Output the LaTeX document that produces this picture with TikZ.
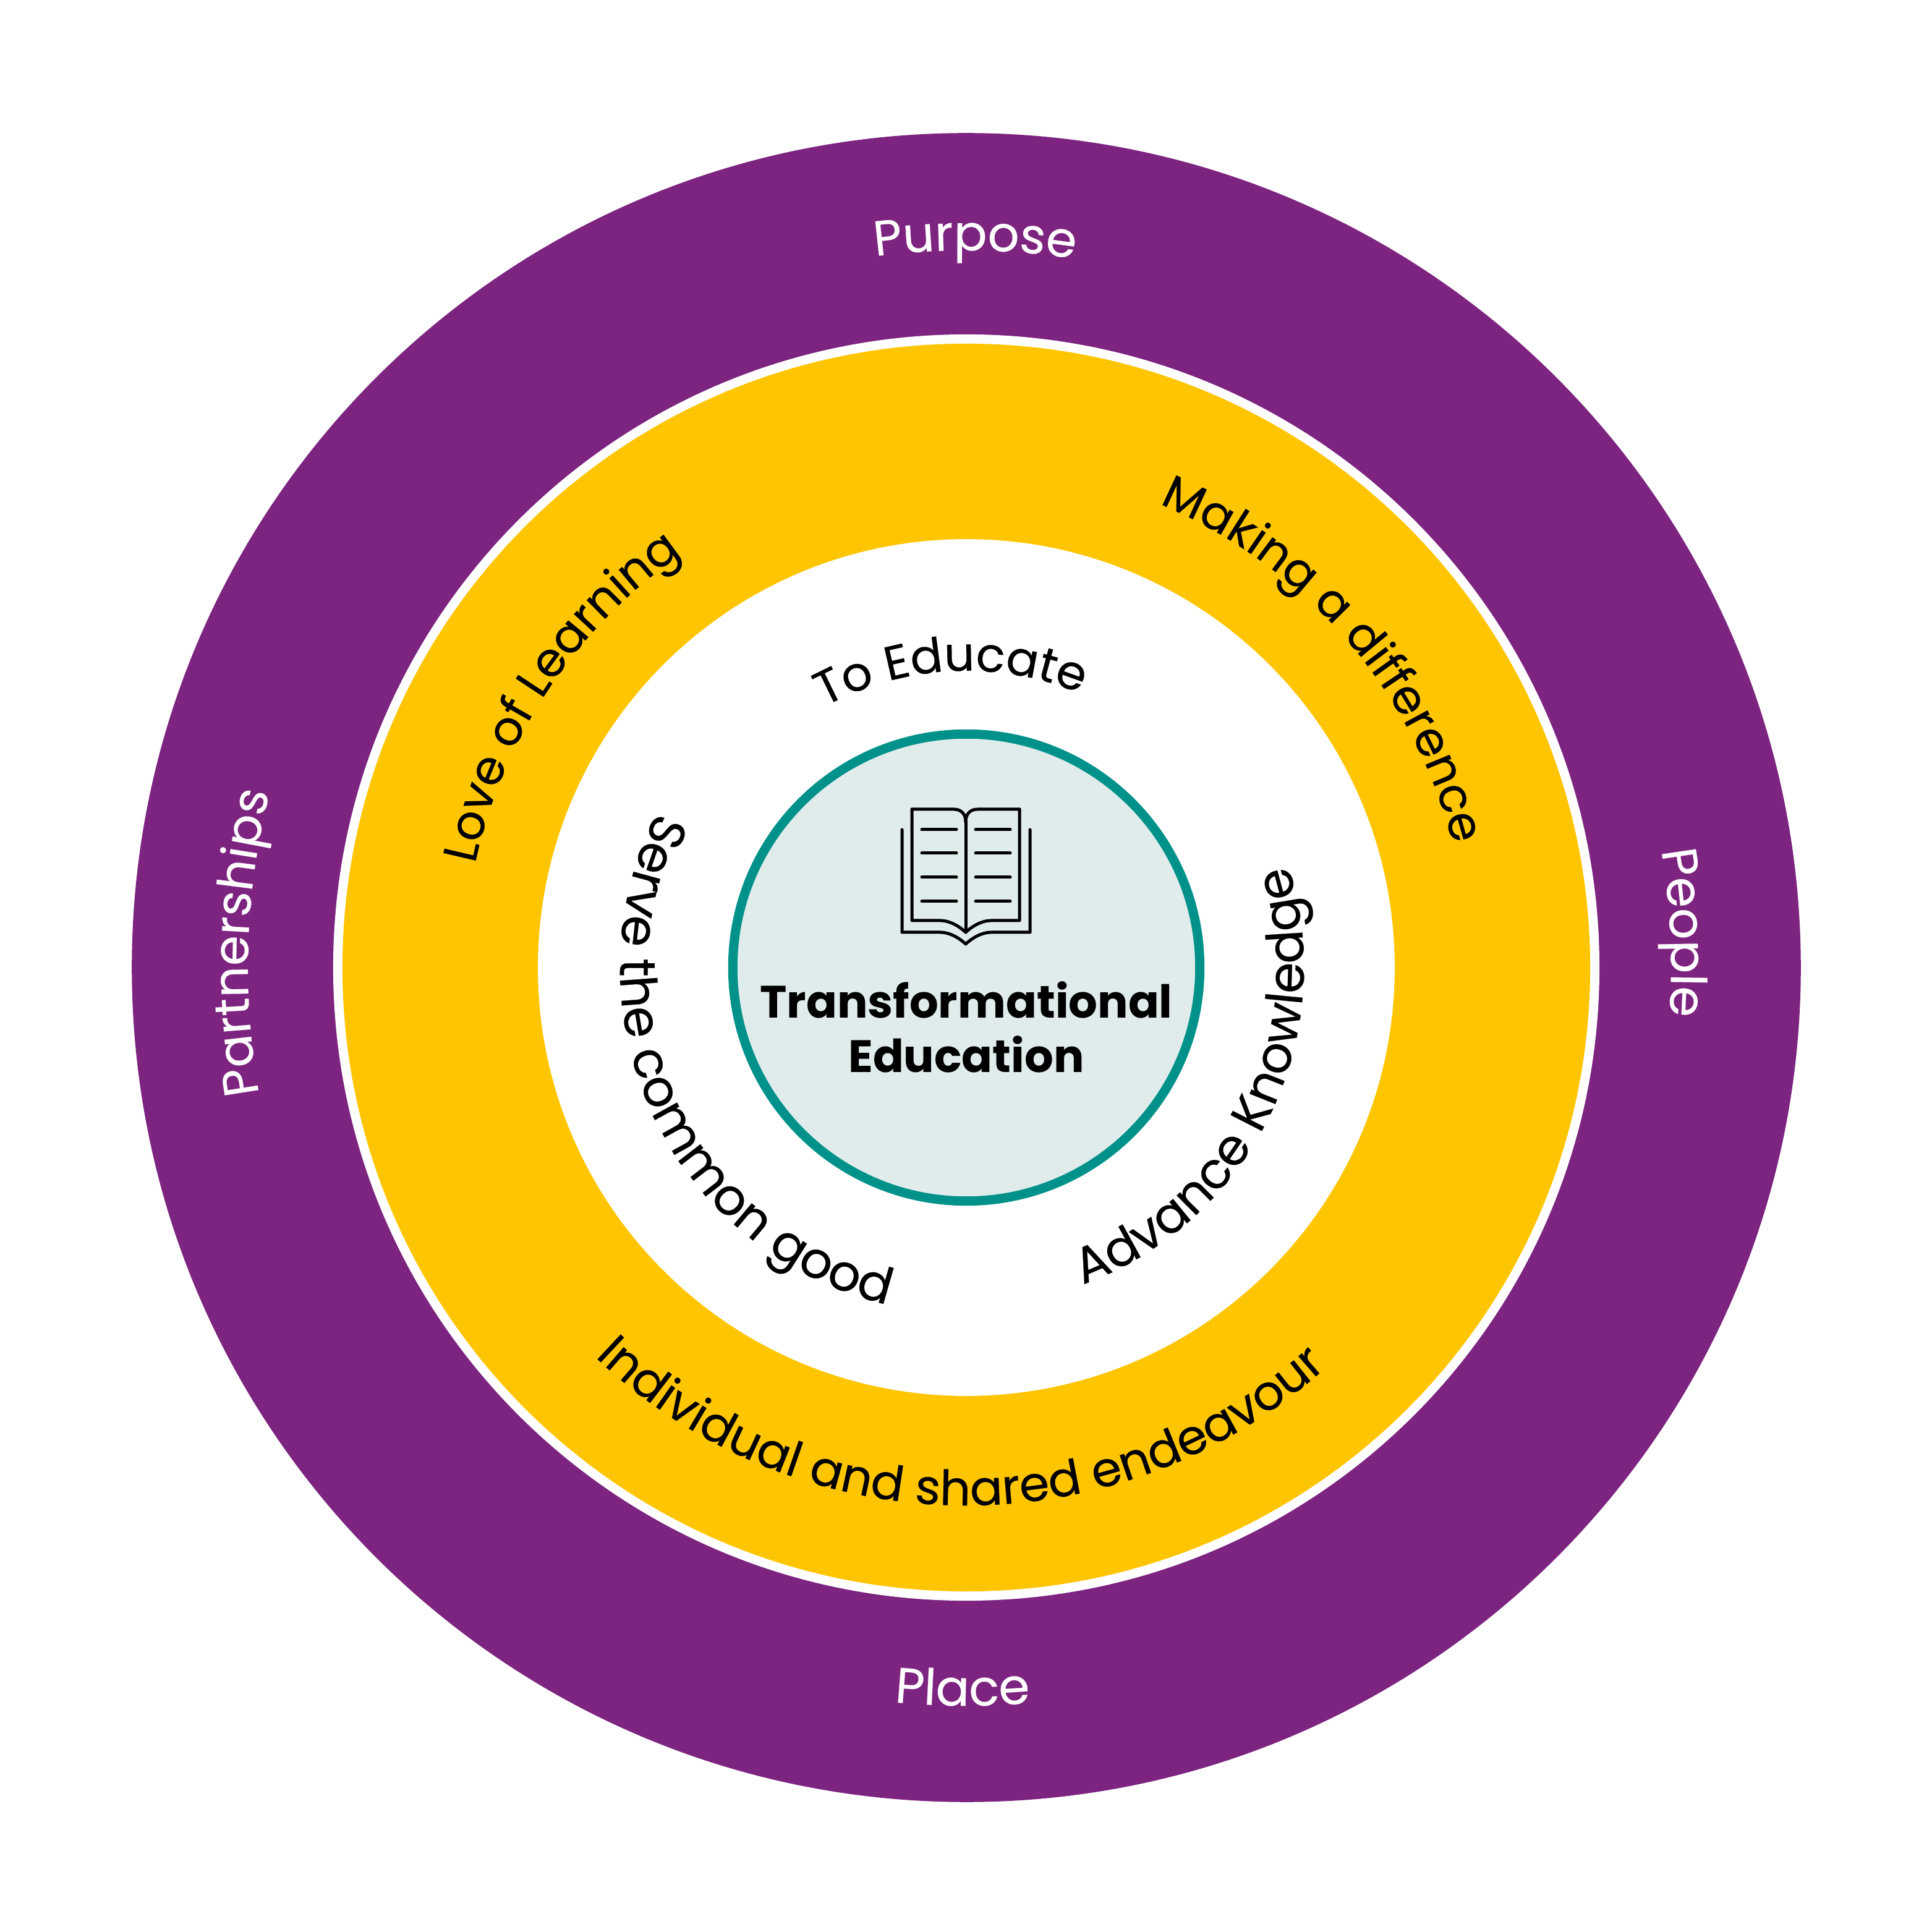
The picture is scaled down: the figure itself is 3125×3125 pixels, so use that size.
\documentclass[tikz,border=0pt]{standalone}
\usepackage{fontspec}
\setmainfont{Poppins}
\newfontfamily\ringface[FakeBold=0.3]{Poppins}
\usetikzlibrary{decorations.text}
\definecolor{ringpurple}{HTML}{7C2480}
\definecolor{ringyellow}{HTML}{FEC500}
\definecolor{coreteal}{HTML}{00928A}
\definecolor{corepale}{HTML}{E0ECEC}
\tikzset{ring label/.style n args={3}{decorate,decoration={text along path,text align=center,
    text/.expanded={|\noexpand\ringface\noexpand\fontsize{#1}{26}\noexpand\selectfont\noexpand\color{#2}|#3}}}}
\begin{document}
\begin{tikzpicture}[x=0.01cm,y=0.01cm]
    \tikzstyle{ring}=[circle,inner sep=0pt,outer sep=0pt]
    \tikzstyle{book line}=[line width=0.05cm,line cap=round,line join=round]
    \useasboundingbox (-1563,-1560) rectangle (1562,1565);

    % Draw the rings from the outside in
    \node[ring,fill=ringpurple,minimum size=26.98cm] (purple) at (0,0) {};
    \node[ring,fill=white,minimum size=20.47cm] (gap) at (purple) {};
    \node[ring,fill=ringyellow,minimum size=20.17cm] (yellow) at (purple) {};
    \node[ring,fill=white,minimum size=13.85cm] (inner) at (purple) {};
    \node[ring,fill=corepale,draw=coreteal,line width=0.15cm,minimum size=7.55cm] (core) at (purple) {};
    \node[font=\bfseries\fontsize{20.9}{25}\selectfont,align=center] (title) at (0,-96) {Transformational\\Education};

    % Draw the book
    \draw[book line] (-88,256) -- (-20,256) .. controls (-8,256) and (-1,248) .. (-1,236);
    \draw[book line] (86,256) -- (18,256) .. controls (6,256) and (-1,248) .. (-1,236);
    \draw[book line] (-88,256) -- (-88,76) -- (-42,76) .. controls (-30,76) and (-15,70) .. (-1,57)
        .. controls (13,70) and (28,76) .. (40,76) -- (86,76) -- (86,256);
    \draw[book line] (-1,236) -- (-1,57);
    \draw[book line] (-104,223) -- (-104,57) -- (-42,57) .. controls (-30,57) and (-15,51) .. (-1,38)
        .. controls (13,51) and (28,57) .. (40,57) -- (103,57) -- (103,223);
    \foreach \y in {223,185,146,107}
    {
        \draw[book line] (-72,\y) -- (-16,\y);
        \draw[book line] (15,\y) -- (71,\y);
    }

    % Draw the curved labels, dir -1 runs clockwise and 1 counter clockwise
    \foreach \lab/\mid/\rad/\dir/\col/\sz in {
        Purpose/89.3/1160/-1/white/22.7, Place/269.7/1194/1/white/23,
        People/2.8/1140/-1/white/22.6, Partnerships/178/1162/-1/white/22.4,
        Love of Learning/146.3/812/-1/black/21.8, Making a difference/40.8/812/-1/black/21.7,
        Individual and shared endeavour/269.2/870/1/black/22.3,
        To Educate/93/480/-1/black/22, Advance Knowledge/-26.1/546/1/black/23.1,
        Serve the common good/205/560/1/black/23.2}
    {
        \pgfmathsetmacro{\startang}{\mid-\dir*100}
        \pgfmathsetmacro{\endang}{\mid+\dir*100}
        \path[ring label={\sz}{\col}{\lab}] (\startang:\rad) arc[start angle=\startang,end angle=\endang,radius=\rad];
    }
\end{tikzpicture}
\end{document}
